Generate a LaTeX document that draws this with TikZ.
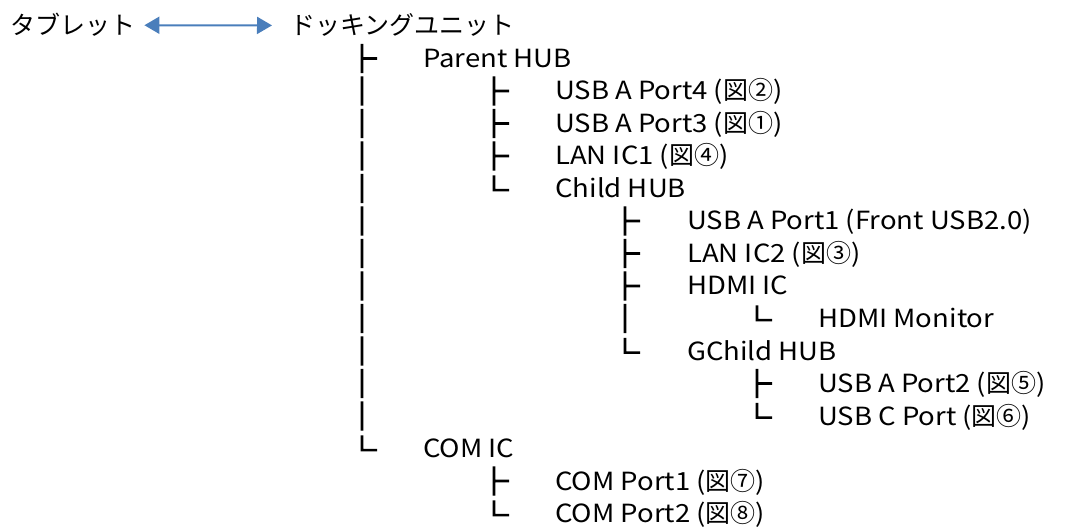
\documentclass[tikz,border=0pt]{standalone}
\usepackage{fontspec}
\setmainfont{Noto Sans CJK JP}[FakeStretch=1.1]
\newfontfamily\jpfont{Noto Sans CJK JP}
\newfontfamily\boxfont{Noto Sans CJK JP}[FakeBold=5]
\usetikzlibrary{arrows.meta}
\definecolor{arrowblue}{HTML}{4A7EBB}
\newcommand\RowY[1]{26+32.5*#1}
\newcommand\BX[1]{\scalebox{1.15}[1.12]{#1}}
\newcommand\Fig[1]{{\jpfont 図#1}}
\begin{document}
\begin{tikzpicture}[x=1pt,y=-1pt,
  lbl/.style={anchor=base west, inner sep=0pt, font=\fontsize{25}{25}\selectfont},
  jlbl/.style={anchor=base west, inner sep=0pt, font=\jpfont\fontsize{25}{25}\selectfont},
  br/.style={anchor=center, inner sep=0pt, font=\boxfont\fontsize{25}{25}\selectfont},
  link/.style={<->, >={Triangle[length=15pt,width=17pt]}, line width=2pt, draw=arrowblue, fill=arrowblue}]
\useasboundingbox (0,0) rectangle (1066,529);
% header
\node[jlbl] (tab) at (10,{\RowY{0}+9}) {タブレット};
\node[jlbl] (dock) at (290,{\RowY{0}+9}) {ドッキングユニット};
\draw[link, shorten <=9pt, shorten >=18pt] (tab.east) -- (dock.west);
% row 1
\node[br] (b1a) at (362,{\RowY{1}}) {\BX{├}};
\node[lbl] (t1) at (423,{\RowY{1}+9}) {Parent HUB};
% row 2
\node[br] (b2a) at (362,{\RowY{2}}) {\BX{│}};
\node[br] (b2b) at (494,{\RowY{2}}) {\BX{├}};
\node[lbl] (t2) at (555,{\RowY{2}+9}) {USB A Port4 (\Fig{②})};
% row 3
\node[br] (b3a) at (362,{\RowY{3}}) {\BX{│}};
\node[br] (b3b) at (494,{\RowY{3}}) {\BX{├}};
\node[lbl] (t3) at (555,{\RowY{3}+9}) {USB A Port3 (\Fig{①})};
% row 4
\node[br] (b4a) at (362,{\RowY{4}}) {\BX{│}};
\node[br] (b4b) at (494,{\RowY{4}}) {\BX{├}};
\node[lbl] (t4) at (555,{\RowY{4}+9}) {LAN IC1 (\Fig{④})};
% row 5
\node[br] (b5a) at (362,{\RowY{5}}) {\BX{│}};
\node[br] (b5b) at (494,{\RowY{5}}) {\BX{└}};
\node[lbl] (t5) at (555,{\RowY{5}+9}) {Child HUB};
% row 6
\node[br] (b6a) at (362,{\RowY{6}}) {\BX{│}};
\node[br] (b6c) at (625,{\RowY{6}}) {\BX{├}};
\node[lbl] (t6) at (687,{\RowY{6}+9}) {USB A Port1 (Front USB2.0)};
% row 7
\node[br] (b7a) at (362,{\RowY{7}}) {\BX{│}};
\node[br] (b7c) at (625,{\RowY{7}}) {\BX{├}};
\node[lbl] (t7) at (687,{\RowY{7}+9}) {LAN IC2 (\Fig{③})};
% row 8
\node[br] (b8a) at (362,{\RowY{8}}) {\BX{│}};
\node[br] (b8c) at (625,{\RowY{8}}) {\BX{├}};
\node[lbl] (t8) at (687,{\RowY{8}+9}) {HDMI IC};
% row 9
\node[br] (b9a) at (362,{\RowY{9}}) {\BX{│}};
\node[br] (b9c) at (625,{\RowY{9}}) {\BX{│}};
\node[br] (b9d) at (757,{\RowY{9}}) {\BX{└}};
\node[lbl] (t9) at (818,{\RowY{9}+9}) {HDMI Monitor};
% row 10
\node[br] (b10a) at (362,{\RowY{10}}) {\BX{│}};
\node[br] (b10c) at (625,{\RowY{10}}) {\BX{└}};
\node[lbl] (t10) at (687,{\RowY{10}+9}) {GChild HUB};
% row 11
\node[br] (b11a) at (362,{\RowY{11}}) {\BX{│}};
\node[br] (b11d) at (757,{\RowY{11}}) {\BX{├}};
\node[lbl] (t11) at (818,{\RowY{11}+9}) {USB A Port2 (\Fig{⑤})};
% row 12
\node[br] (b12a) at (362,{\RowY{12}}) {\BX{│}};
\node[br] (b12d) at (757,{\RowY{12}}) {\BX{└}};
\node[lbl] (t12) at (818,{\RowY{12}+9}) {USB C Port (\Fig{⑥})};
% row 13
\node[br] (b13a) at (362,{\RowY{13}}) {\BX{└}};
\node[lbl] (t13) at (423,{\RowY{13}+9}) {COM IC};
% row 14
\node[br] (b14b) at (494,{\RowY{14}}) {\BX{├}};
\node[lbl] (t14) at (555,{\RowY{14}+9}) {COM Port1 (\Fig{⑦})};
% row 15
\node[br] (b15b) at (494,{\RowY{15}}) {\BX{└}};
\node[lbl] (t15) at (555,{\RowY{15}+9}) {COM Port2 (\Fig{⑧})};
\end{tikzpicture}
\end{document}
